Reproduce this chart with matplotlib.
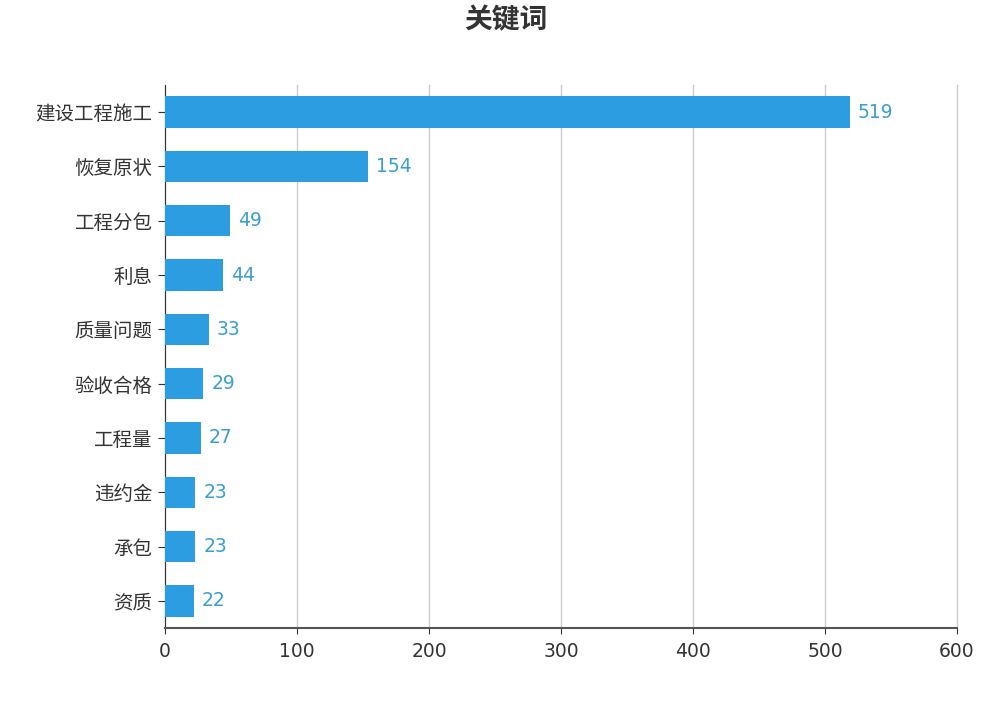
import matplotlib.pyplot as plt

plt.rcParams['font.family'] = ['Noto Sans CJK SC', 'DejaVu Sans']

keywords = ['建设工程施工', '恢复原状', '工程分包', '利息', '质量问题',
            '验收合格', '工程量', '违约金', '承包', '资质']
counts = [519, 154, 49, 44, 33, 29, 27, 23, 23, 22]
xticks = [0, 100, 200, 300, 400, 500, 600]

fig = plt.figure(figsize=(10.08, 7.14), dpi=100)
ax = fig.add_axes([0.1637, 0.1204, 0.7857, 0.7606])

ypos = list(range(len(keywords)))
ax.barh(ypos, counts, height=0.58, color='#2b9de0', zorder=3)

for y, v in zip(ypos, counts):
    ax.text(v + 6, y, str(v), va='center', ha='left', fontsize=13.5,
            color='#3a9fd0', family=['DejaVu Sans'])

ax.set_yticks(ypos)
ax.set_yticklabels(keywords, fontsize=14, color='#333333')
ax.set_ylim(len(keywords) - 0.5, -0.5)
ax.set_xlim(0, 600)
ax.set_xticks(xticks)
ax.set_xticklabels([str(t) for t in xticks], fontsize=13.5, color='#333333',
                   family=['DejaVu Sans'])

ax.grid(axis='x', color='#cccccc', linewidth=1, zorder=0)
for line in ax.get_xgridlines():
    line.set_clip_on(False)
for s in ['top', 'right']:
    ax.spines[s].set_visible(False)
ax.spines['left'].set_color('#333333')
ax.spines['bottom'].set_color('#555555')
ax.spines['bottom'].set_linewidth(1.5)
ax.tick_params(axis='y', length=5, color='#333333', pad=4)
ax.tick_params(axis='x', length=4, color='#333333', pad=6)

fig.text(0.502, 0.972, '关键词', ha='center', va='center', fontsize=20,
         fontweight='bold', color='#333333')

fig.savefig('out.png', dpi=100)
